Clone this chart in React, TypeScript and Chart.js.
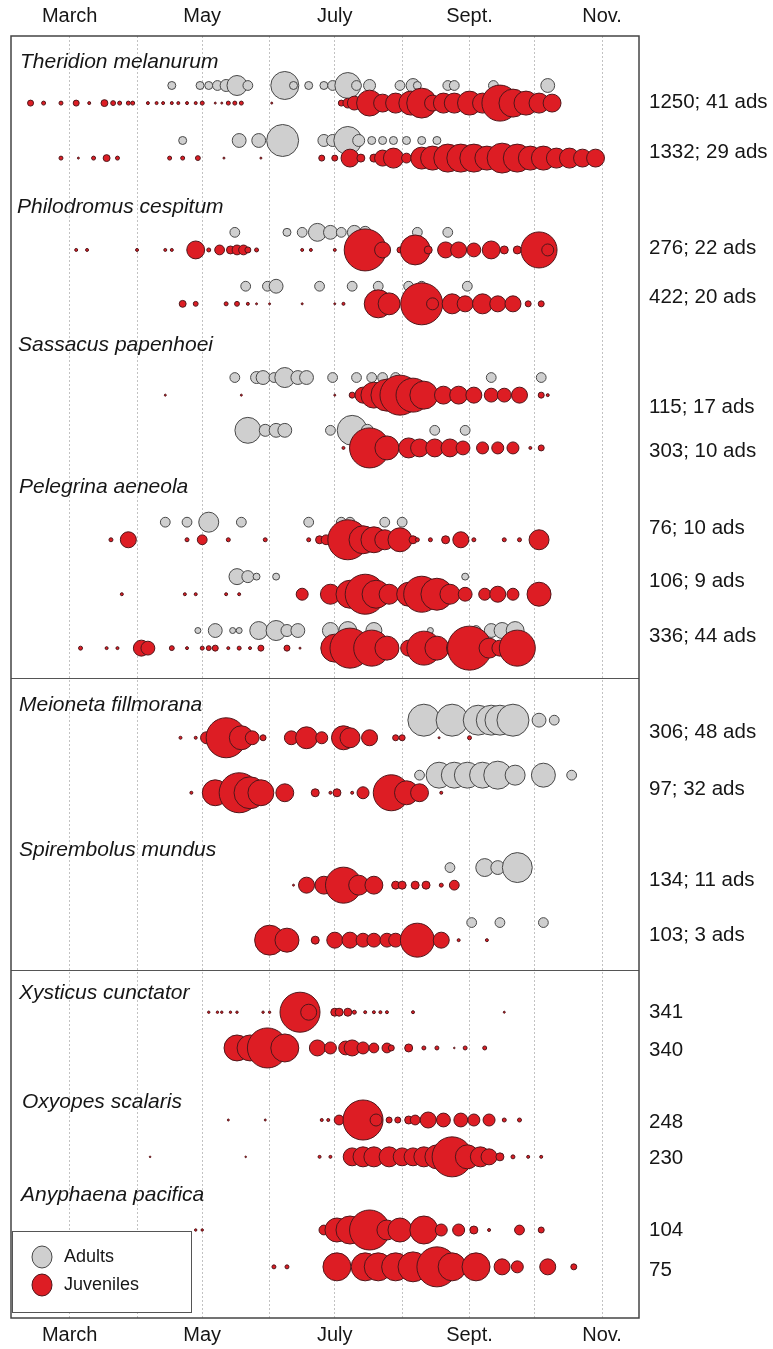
import React, { useEffect, useRef } from "react";
import { Chart, registerables } from "chart.js";

Chart.register(...registerables);

// [day of year, relative abundance]
type Pt = [number, number];

const monthStarts = [60, 91, 121, 152, 182, 213, 244, 274, 305];
const monthLabels = ["March", "", "May", "", "July", "", "Sept.", "", "Nov."];

const speciesNames = [
  "Theridion melanurum",
  "Philodromus cespitum",
  "Sassacus papenhoei",
  "Pelegrina aeneola",
  "Meioneta fillmorana",
  "Spirembolus mundus",
  "Xysticus cunctator",
  "Oxyopes scalaris",
  "Anyphaena pacifica",
];
const speciesTitleLevels = [0.47, 3.11, 5.62, 8.2, 12.16, 14.8, 17.4, 19.38, 21.07];
const speciesTitleIndent = [9, 6, 7, 8, 8, 8, 8, 11, 10];

const rowLevels = [
  1.22, 2.22, 3.89, 4.87, 6.53, 7.49, 9.16, 10.15, 11.13, 12.76, 13.76, 15.44, 16.44,
  17.75, 18.4, 19.71, 20.38, 21.71, 22.38,
];
const rowLabels = [
  "1250; 41 ads", "1332; 29 ads", "276; 22 ads", "422; 20 ads", "115; 17 ads", "303; 10 ads",
  "76; 10 ads", "106; 9 ads", "336; 44 ads", "306; 48 ads", "97; 32 ads", "134; 11 ads",
  "103; 3 ads", "341", "340", "248", "230", "104", "75",
];
const rowLabelLevels = [
  1.2, 2.11, 3.87, 4.75, 6.76, 7.56, 8.96, 9.91, 10.91, 12.67, 13.69, 15.35, 16.35,
  17.76, 18.44, 19.76, 20.4, 21.71, 22.44,
];
const separatorLevels = [11.67, 16.98];
const adultOffset = 0.32;

// ---- Theridion melanurum
const ther1Ad: Pt[] = [[107,4],[120,4],[124,4],[128,6],[132,9],[137,25],[142,6],[159,49],[163,4],[170,4],[177,4],[181,6],[188,42],[192,6],[198,9],[212,6],[218,12],[220,4],[234,6],[237,6],[255,6],[280,12]];
const ther1Juv: Pt[] = [[42,2.25],[48,1],[56,1],[63,2.25],[69,0.56],[76,3],[80,1.5],[83,1],[87,1],[89,1],[96,0.56],[100,0.56],[103,0.56],[107,0.56],[110,0.56],[114,0.56],[118,0.56],[121,1],[127,0.25],[130,0.25],[133,1],[136,1],[139,1],[153,0.25],[185,2.25],[188,6],[191,12],[198,42],[204,20],[210,25],[217,36],[222,56],[227,16],[232,25],[237,25],[244,36],[250,25],[258,81],[264,49],[270,36],[276,25],[282,20]];
const ther2Ad: Pt[] = [[112,4],[138,12],[147,12],[158,64],[177,9],[181,9],[188,49],[193,9],[199,4],[204,4],[209,4],[215,4],[222,4],[229,4]];
const ther2Juv: Pt[] = [[56,1],[64,0.25],[71,1],[77,3],[82,1],[106,1],[112,1],[119,1.5],[131,0.25],[148,0.25],[176,2.25],[182,2.25],[189,20],[194,4],[200,4],[204,16],[209,25],[215,6],[222,30],[227,36],[234,49],[240,49],[246,49],[252,36],[259,56],[266,49],[272,36],[278,36],[284,25],[290,25],[296,20],[302,20]];

// ---- Philodromus cespitum
const phil1Ad: Pt[] = [[136,6],[160,4],[167,6],[174,20],[180,12],[185,6],[191,12],[196,9],[220,6],[234,6]];
const phil1Juv: Pt[] = [[63,0.56],[68,0.56],[91,0.56],[104,0.56],[107,0.56],[118,20],[124,1],[129,6],[134,4],[137,6],[140,6],[142,2.25],[146,1],[167,0.56],[171,0.56],[182,0.56],[196,110],[204,16],[212,2.25],[219,56],[225,4],[233,16],[239,16],[246,12],[254,20],[260,4],[266,4],[276,81],[280,9]];
const phil2Ad: Pt[] = [[141,6],[151,6],[155,12],[175,6],[190,6],[202,6],[216,6],[222,6],[243,6]];
const phil2Juv: Pt[] = [[112,3],[118,1.5],[132,1],[137,1.5],[142,0.56],[146,0.25],[152,0.25],[167,0.25],[182,0.25],[186,0.56],[202,49],[207,30],[222,110],[227,9],[236,25],[242,16],[250,25],[257,16],[264,16],[271,2.25],[277,2.25]];

// ---- Sassacus papenhoei
const sass1Ad: Pt[] = [[136,6],[146,9],[149,12],[154,6],[159,25],[165,12],[169,12],[181,6],[192,6],[199,6],[204,6],[210,6],[254,6],[277,6]];
const sass1Juv: Pt[] = [[104,0.25],[139,0.25],[182,0.25],[190,2.25],[195,16],[200,42],[206,64],[212,100],[218,72],[223,49],[232,20],[239,20],[246,16],[254,12],[260,12],[267,16],[277,2.25],[280,0.56]];
const sass2Ad: Pt[] = [[142,42],[150,9],[155,12],[159,12],[180,6],[190,56],[197,9],[228,6],[242,6]];
const sass2Juv: Pt[] = [[186,0.56],[198,100],[206,36],[216,25],[221,20],[228,20],[235,20],[241,12],[250,9],[257,9],[264,9],[272,0.56],[277,2.25]];

// ---- Pelegrina aeneola
const pele1Ad: Pt[] = [[104,6],[114,6],[124,25],[139,6],[170,6],[185,6],[189,6],[205,6],[213,6]];
const pele1Juv: Pt[] = [[79,1],[87,16],[114,1],[121,6],[133,1],[150,1],[170,1],[175,4],[178,6],[188,100],[195,49],[200,42],[205,25],[212,36],[218,4],[220,1],[226,1],[233,4],[240,16],[246,1],[260,1],[267,1],[276,25]];
const pele2Ad: Pt[] = [[137,16],[142,9],[146,3],[155,3],[242,3]];
const pele2Juv: Pt[] = [[84,0.56],[113,0.56],[118,0.56],[132,0.56],[138,0.56],[167,9],[176,0.25],[180,25],[189,49],[196,100],[201,49],[207,25],[216,36],[222,81],[229,64],[235,25],[242,12],[251,9],[257,16],[264,9],[276,36]];
const pele3Ad: Pt[] = [[119,2.25],[127,12],[135,2.25],[138,2.25],[147,20],[155,25],[160,9],[165,12],[180,16],[188,20],[200,16],[226,2.25],[247,6],[254,12],[259,16],[265,20]];
const pele3Juv: Pt[] = [[65,1],[77,0.56],[82,0.56],[93,16],[96,12],[107,1.5],[114,0.56],[121,1],[124,1.5],[127,2.25],[133,0.56],[138,1],[143,0.56],[148,2.25],[160,2.25],[166,0.25],[182,49],[189,100],[199,81],[206,36],[216,16],[223,72],[229,36],[238,25],[244,121],[253,25],[258,16],[266,81]];

// ---- Meioneta fillmorana
const meio1Ad: Pt[] = [[223,64],[236,64],[248,56],[254,56],[258,56],[264,64],[276,12],[283,6]];
const meio1Juv: Pt[] = [[111,0.56],[118,0.56],[123,9],[132,100],[139,36],[144,12],[149,2.25],[162,12],[169,30],[176,9],[186,36],[189,25],[198,16],[210,2.25],[213,2.25],[230,0.25],[244,1]];
const meio2Ad: Pt[] = [[221,6],[230,42],[237,42],[243,42],[250,42],[257,49],[265,25],[278,36],[291,6]];
const meio2Juv: Pt[] = [[116,0.56],[127,42],[138,100],[143,64],[148,42],[159,20],[173,4],[180,0.56],[183,4],[190,0.56],[195,9],[208,81],[215,36],[221,20],[231,0.56]];

// ---- Spirembolus mundus
const spir1Ad: Pt[] = [[235,6],[251,20],[257,12],[266,56]];
const spir1Juv: Pt[] = [[163,0.25],[169,16],[177,20],[186,81],[193,25],[200,20],[210,4],[213,4],[219,4],[224,4],[231,1],[237,6]];
const spir2Ad: Pt[] = [[245,6],[258,6],[278,6]];
const spir2Juv: Pt[] = [[152,56],[160,36],[173,4],[182,16],[189,16],[195,12],[200,12],[206,12],[210,12],[220,72],[231,16],[239,0.56],[252,0.56]];

// ---- Xysticus cunctator
const xyst1Juv: Pt[] = [[124,0.36],[128,0.36],[130,0.36],[134,0.36],[137,0.36],[149,0.36],[152,0.36],[166,100],[170,16],[182,4],[184,4],[188,4],[191,1],[196,0.56],[200,0.56],[203,0.56],[206,0.56],[218,0.56],[260,0.25]];
const xyst2Juv: Pt[] = [[137,42],[143,42],[151,100],[159,49],[174,16],[180,9],[187,12],[190,16],[195,9],[200,6],[206,6],[208,2.25],[216,4],[223,1],[229,1],[237,0.16],[242,1],[251,1]];

// ---- Oxyopes scalaris
const oxyo1Juv: Pt[] = [[133,0.25],[150,0.25],[176,0.56],[179,0.56],[184,6],[195,100],[201,9],[207,2.25],[211,2.25],[216,4],[219,6],[225,16],[232,12],[240,12],[246,9],[253,9],[260,1],[267,1]];
const oxyo2Juv: Pt[] = [[97,0.16],[141,0.16],[175,0.56],[180,0.56],[190,20],[195,25],[200,25],[207,25],[213,20],[218,20],[223,25],[229,36],[236,100],[243,36],[249,25],[253,16],[258,4],[264,1],[271,0.56],[277,0.56]];

// ---- Anyphaena pacifica
const anyp1Juv: Pt[] = [[118,0.36],[121,0.36],[177,6],[183,36],[189,49],[198,100],[206,25],[212,36],[223,49],[231,9],[239,9],[246,4],[253,0.56],[267,6],[277,2.25]];
const anyp2Juv: Pt[] = [[154,1],[160,1],[183,49],[196,49],[202,49],[210,49],[218,56],[229,100],[236,49],[247,49],[259,16],[266,9],[280,16],[292,2.25]];

const adultRows: Pt[][] = [
  ther1Ad, ther2Ad, phil1Ad, phil2Ad, sass1Ad, sass2Ad, pele1Ad, pele2Ad, pele3Ad,
  meio1Ad, meio2Ad, spir1Ad, spir2Ad, [], [], [], [], [], [],
];
const juvenileRows: Pt[][] = [
  ther1Juv, ther2Juv, phil1Juv, phil2Juv, sass1Juv, sass2Juv, pele1Juv, pele2Juv, pele3Juv,
  meio1Juv, meio2Juv, spir1Juv, spir2Juv, xyst1Juv, xyst2Juv, oxyo1Juv, oxyo2Juv, anyp1Juv, anyp2Juv,
];

const radiusOf = (n: number) => 2 * Math.sqrt(n);

const RED = "rgb(221, 29, 36)";
const RED_EDGE = "rgb(80, 22, 26)";
const GREY = "rgb(207, 207, 207)";
const GREY_EDGE = "rgb(72, 72, 72)";
const FONT = '"Liberation Sans", Arial, Helvetica, sans-serif';

function toPoints(rows: Pt[][], offset: number) {
  const out: { x: number; y: number; r: number }[] = [];
  rows.forEach((row, i) => {
    row.forEach(([d, n]) => out.push({ x: d, y: rowLevels[i] - offset, r: radiusOf(n) }));
  });
  return out;
}

const overlayPlugin = {
  id: "overlay",
  afterDraw(chart: any) {
    const { ctx, chartArea: a } = chart;
    const y = chart.scales.y;
    ctx.save();
    // separators
    ctx.strokeStyle = "#555";
    ctx.lineWidth = 1.2;
    separatorLevels.forEach((v) => {
      const py = Math.round(y.getPixelForValue(v)) + 0.5;
      ctx.beginPath();
      ctx.moveTo(a.left, py);
      ctx.lineTo(a.right, py);
      ctx.stroke();
    });
    // frame
    ctx.lineWidth = 1.5;
    ctx.strokeStyle = "#444";
    ctx.strokeRect(a.left, a.top, a.right - a.left, a.bottom - a.top);
    // species titles
    ctx.fillStyle = "#161616";
    ctx.textBaseline = "middle";
    ctx.textAlign = "left";
    ctx.font = `italic 21px ${FONT}`;
    speciesNames.forEach((s, i) => {
      ctx.fillText(s, a.left + speciesTitleIndent[i], y.getPixelForValue(speciesTitleLevels[i]));
    });
    // row labels
    ctx.font = `20.5px ${FONT}`;
    rowLabels.forEach((t, i) => {
      ctx.fillText(t, a.right + 10, y.getPixelForValue(rowLabelLevels[i]));
    });
    // legend
    const lx = a.left + 1;
    const ly = a.bottom - 87;
    ctx.fillStyle = "#fff";
    ctx.fillRect(lx, ly, 179, 81);
    ctx.lineWidth = 1;
    ctx.strokeStyle = "#555";
    ctx.strokeRect(lx + 0.5, ly + 0.5, 179, 81);
    const items = [
      { label: "Adults", fill: GREY, edge: GREY_EDGE },
      { label: "Juveniles", fill: RED, edge: RED_EDGE },
    ];
    items.forEach((it, i) => {
      const cy = ly + 26 + i * 28;
      ctx.beginPath();
      ctx.ellipse(lx + 30, cy, 10, 11, 0, 0, Math.PI * 2);
      ctx.fillStyle = it.fill;
      ctx.fill();
      ctx.strokeStyle = it.edge;
      ctx.lineWidth = 1;
      ctx.stroke();
      ctx.fillStyle = "#161616";
      ctx.font = `18px ${FONT}`;
      ctx.fillText(it.label, lx + 52, cy);
    });
    ctx.restore();
  },
};

const fixAxisBox = (s: any, h: number) => {
  s.height = h;
  s.paddingLeft = 0;
  s.paddingRight = 0;
};

export default function App() {
  const ref = useRef<HTMLCanvasElement>(null);
  useEffect(() => {
    const chart = new Chart(ref.current as HTMLCanvasElement, {
      type: "bubble",
      data: {
        datasets: [
          {
            label: "Juveniles",
            data: toPoints(juvenileRows, 0),
            backgroundColor: RED,
            borderColor: RED_EDGE,
            borderWidth: 1,
            order: 0,
          },
          {
            label: "Adults",
            data: toPoints(adultRows, adultOffset),
            backgroundColor: GREY,
            borderColor: GREY_EDGE,
            borderWidth: 1,
            order: 1,
          },
        ],
      },
      options: {
        responsive: false,
        animation: false,
        events: [],
        layout: { autoPadding: false, padding: { left: 11, right: 134, top: 0, bottom: 0 } },
        plugins: { legend: { display: false }, tooltip: { enabled: false } },
        scales: {
          x: {
            type: "linear",
            position: "bottom",
            min: 33,
            max: 322,
            afterBuildTicks: (s: any) => {
              s.ticks = monthStarts.map((v) => ({ value: v }));
            },
            afterFit: (s: any) => fixAxisBox(s, 31),
            ticks: {
              autoSkip: false,
              maxRotation: 0,
              padding: 5,
              color: "#161616",
              font: { family: FONT, size: 20 },
              callback: (_v: any, i: number) => monthLabels[i],
            },
            grid: { display: true, drawTicks: false, color: "#c2c2c2", lineWidth: 1 },
            border: { display: false, dash: [2, 2] },
          },
          xTop: {
            type: "linear",
            position: "top",
            min: 33,
            max: 322,
            afterBuildTicks: (s: any) => {
              s.ticks = monthStarts.map((v) => ({ value: v }));
            },
            afterFit: (s: any) => fixAxisBox(s, 36),
            ticks: {
              autoSkip: false,
              maxRotation: 0,
              padding: 8,
              color: "#161616",
              font: { family: FONT, size: 20 },
              callback: (_v: any, i: number) => monthLabels[i],
            },
            grid: { display: false, drawTicks: false },
            border: { display: false },
          },
          y: {
            type: "linear",
            display: false,
            min: 0,
            max: 23.31,
            reverse: true,
          },
        },
      },
      plugins: [overlayPlugin],
    });
    return () => chart.destroy();
  }, []);
  return (
    <div style={{ position: "absolute", left: 0, top: 0, width: 773, height: 1349, background: "#fff" }}>
      <canvas ref={ref} width={773} height={1349} style={{ display: "block", width: 773, height: 1349 }} />
    </div>
  );
}
